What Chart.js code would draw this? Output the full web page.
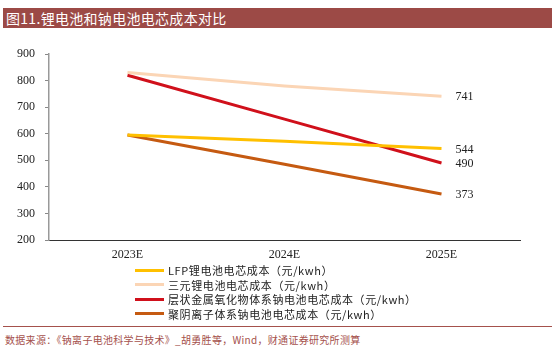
<!DOCTYPE html>
<html lang="zh">
<head>
<meta charset="UTF-8">
<title>锂电池和钠电池电芯成本对比</title>
<script src="https://cdn.jsdelivr.net/npm/chart.js"></script>
<style>
  body {margin:0; width:554px; height:351px; background:#fff; position:relative; overflow:hidden; font-family:'Noto Sans CJK SC',sans-serif;}
  .title {position:absolute; left:3px; top:8px; width:549px; height:20px; background:#9c4a46; color:#fff; font-size:14px; line-height:20px; padding-left:3px; box-sizing:border-box; letter-spacing:0.3px;}
  .chart-box {position:absolute; left:0; top:30px; width:554px; height:240px;}
  .legend {position:absolute; left:135px; top:263px; font-size:11px; color:#222; letter-spacing:0.6px;}
  .legend div {height:14.5px; line-height:14.5px; display:flex; align-items:center;}
  .legend span.sw {display:inline-block; width:29px; height:3px; margin-right:4px;}
  .rule {position:absolute; left:3px; top:326px; width:549px; height:1px; background:#a5514c;}
  .source {position:absolute; left:5px; top:332px; font-size:10px; color:#a5514c; letter-spacing:0.3px;}
</style>
</head>
<body>
<div class="title">图11.锂电池和钠电池电芯成本对比</div>
<div class="chart-box"><canvas id="c"></canvas></div>
<div class="legend" id="legend"></div>
<div class="rule"></div>
<div class="source">数据来源：《钠离子电池科学与技术》_胡勇胜等，Wind，财通证券研究所测算</div>
<script>
const years = ['2023E', '2024E', '2025E'];
const lfpCost = [595, 572, 544];
const ternaryCost = [830, 780, 741];
const layeredCost = [820, 655, 490];
const polyanionCost = [595, 485, 373];
const seriesNames = ['LFP锂电池电芯成本（元/kwh）', '三元锂电池电芯成本（元/kwh）', '层状金属氧化物体系钠电池电芯成本（元/kwh）', '聚阴离子体系钠电池电芯成本（元/kwh）'];
const seriesColors = ['#ffc000', '#fbd5b5', '#d0101b', '#c55a11'];
const yTicks = [200, 300, 400, 500, 600, 700, 800, 900];

const allSeries = [lfpCost, ternaryCost, layeredCost, polyanionCost];
// draw ternary first so red sits on top, like the picture
const drawOrder = [1, 0, 3, 2];

const endLabels = {
    id: 'endLabels',
    afterDatasetsDraw(chart) {
        const ctx = chart.ctx;
        ctx.save();
        ctx.font = '12px "Liberation Serif", serif';
        ctx.fillStyle = '#222';
        ctx.textBaseline = 'middle';
        chart.data.datasets.forEach((ds, i) => {
            const meta = chart.getDatasetMeta(i);
            const pt = meta.data[meta.data.length - 1];
            ctx.fillText(ds.data[ds.data.length - 1], pt.x + 14, pt.y + 1);
        });
        ctx.restore();
    }
};

new Chart(document.getElementById('c'), {
    type: 'line',
    data: {
        labels: years,
        datasets: drawOrder.map(i => ({
            label: seriesNames[i],
            data: allSeries[i],
            borderColor: seriesColors[i],
            backgroundColor: seriesColors[i],
            borderWidth: 3,
            pointRadius: 0,
            tension: 0
        }))
    },
    options: {
        responsive: true,
        maintainAspectRatio: false,
        animation: false,
        layout: {padding: {left: 0, right: 34, top: 24, bottom: 0}},
        plugins: {legend: {display: false}, tooltip: {enabled: false}},
        scales: {
            x: {
                offset: true,
                grid: {display: false, drawTicks: false},
                border: {color: '#333', width: 1},
                ticks: {color: '#222', font: {family: '"Liberation Serif", serif', size: 12}, padding: 8},
                afterFit(scale) { scale.height = 30; }
            },
            y: {
                min: 200, max: 900,
                afterBuildTicks(scale) { scale.ticks = yTicks.map(v => ({value: v})); },
                grid: {drawOnChartArea: false, tickLength: 4, color: '#888'},
                border: {color: '#999', width: 1.5},
                ticks: {color: '#222', font: {family: '"Liberation Serif", serif', size: 12}, padding: 10},
                afterFit(scale) { scale.width = 49; }
            }
        }
    },
    plugins: [endLabels]
});

document.getElementById('legend').innerHTML = seriesNames.map((name, i) =>
    `<div><span class="sw" style="background:${seriesColors[i]}"></span>${name}</div>`).join('');
</script>
</body>
</html>
